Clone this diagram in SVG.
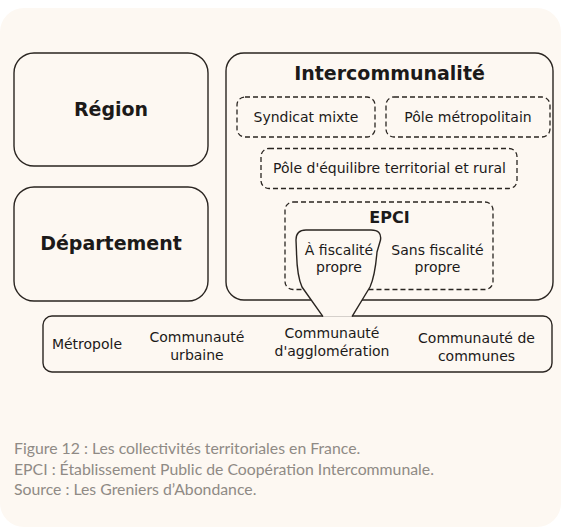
<svg xmlns="http://www.w3.org/2000/svg" width="561" height="528" viewBox="0 0 561 528">
<style>
.box{fill:#fdf8f2;stroke:#2a2521;stroke-width:1.4}
.dash{fill:none;stroke:#2a2521;stroke-width:1.3;stroke-dasharray:5 3}
.t{font-family:"DejaVu Sans",sans-serif;font-size:14px;fill:#1c1a19;text-anchor:middle}
.b{font-family:"DejaVu Sans",sans-serif;font-weight:bold;font-size:19px;fill:#1c1a19;text-anchor:middle}
.cap{font-family:Lato,"Noto Sans",sans-serif;font-size:15.8px;fill:#8f8a85}
</style>
<rect x="0" y="0" width="561" height="528" fill="#ffffff"/>
<rect id="background" x="0" y="8" width="561" height="519" rx="24" fill="#fdf8f2"/>

<g id="communes">
<rect class="box" x="43" y="316" width="509" height="56" rx="9"/>
<text class="t" x="87" y="349">Métropole</text>
<text class="t" x="197" y="341.5">Communauté</text>
<text class="t" x="197" y="359.5">urbaine</text>
<text class="t" x="332" y="338">Communauté</text>
<text class="t" x="332" y="356">d'agglomération</text>
<text class="t" x="476.5" y="342.5">Communauté de</text>
<text class="t" x="476.5" y="360.5">communes</text>
</g>

<g id="region">
<rect class="box" x="14" y="53" width="194" height="113" rx="20"/>
<text class="b" x="111" y="116">Région</text>
</g>

<g id="departement">
<rect class="box" x="14" y="187" width="194" height="114" rx="20"/>
<text class="b" x="111" y="250">Département</text>
</g>

<g id="intercommunalite">
<rect class="box" x="226" y="53" width="327" height="247" rx="18"/>
<text class="b" x="389.5" y="80">Intercommunalité</text>
</g>

<g id="syndicat">
<rect class="dash" x="237" y="97" width="138" height="40" rx="8"/>
<text class="t" x="306" y="121.5">Syndicat mixte</text>
</g>

<g id="pole-metropolitain">
<rect class="dash" x="386" y="97" width="164" height="40" rx="8"/>
<text class="t" x="468" y="121.5">Pôle métropolitain</text>
</g>

<g id="pole-equilibre">
<rect class="dash" x="261" y="148.5" width="256" height="40" rx="8"/>
<text class="t" x="389.5" y="173">Pôle d'équilibre territorial et rural</text>
</g>

<g id="epci">
<rect class="dash" x="285" y="202" width="208" height="87.5" rx="8"/>
<text class="b" x="389.5" y="223" style="font-size:16px">EPCI</text>
</g>

<g id="connectors">
<path d="M323 316.7 L302 287 Q297 276 296.5 252 L296 240 Q296 230 306 230 L371 230 Q382 230 380.5 240 L377 252 Q375 276 370 287 L352 316.7 Z" fill="#fdf8f2" stroke="none"/>
<path d="M323 316.7 L302 287 Q297 276 296.5 252 L296 240 Q296 230 306 230 L371 230 Q382 230 380.5 240 L377 252 Q375 276 370 287 L352 316.7" fill="none" stroke="#2a2521" stroke-width="1.4" stroke-linejoin="round"/>
</g>

<g id="a-fiscalite">
<text class="t" x="339" y="255">À fiscalité</text>
<text class="t" x="339" y="271.5">propre</text>
</g>

<g id="sans-fiscalite">
<text class="t" x="437.5" y="255">Sans fiscalité</text>
<text class="t" x="437.5" y="271.5">propre</text>
</g>

<g id="caption">
<text class="cap" x="14" y="454">Figure 12 : Les collectivités territoriales en France.</text>
<text class="cap" x="14" y="474.5">EPCI : Établissement Public de Coopération Intercommunale.</text>
<text class="cap" x="14" y="495">Source : Les Greniers d’Abondance.</text>
</g>
</svg>
